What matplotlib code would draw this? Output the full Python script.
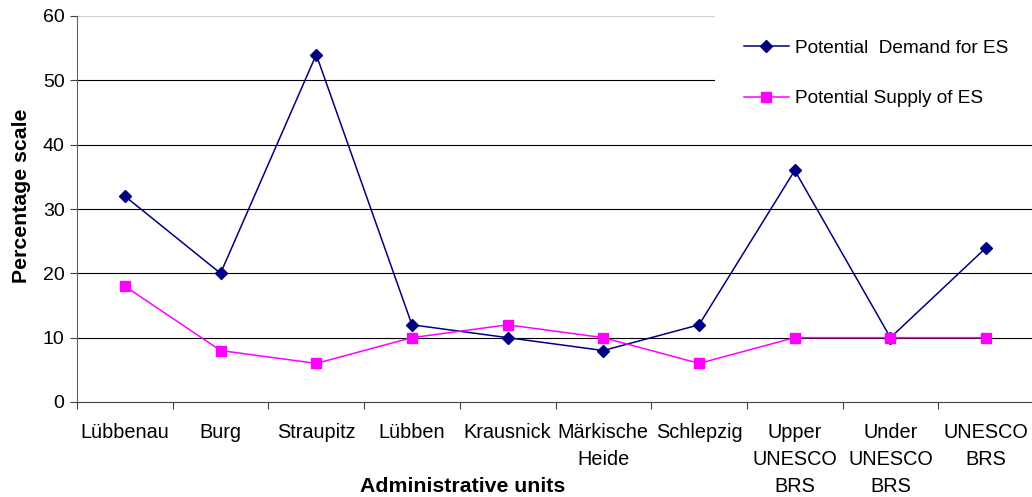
import matplotlib
matplotlib.use("Agg")
import matplotlib.pyplot as plt
import numpy as np

plt.rcParams['font.family'] = ['Liberation Sans', 'DejaVu Sans']

# Data
units = ['Lübbenau', 'Burg', 'Straupitz', 'Lübben', 'Krausnick',
         'Märkische\nHeide', 'Schlepzig', 'Upper\nUNESCO\nBRS',
         'Under\nUNESCO\nBRS', 'UNESCO\nBRS']
demand = [32, 20, 54, 12, 10, 8, 12, 36, 10, 24]
supply = [18, 8, 6, 10, 12, 10, 6, 10, 10, 10]
y_ticks = [0, 10, 20, 30, 40, 50, 60]


def plot_chart():
    fig = plt.figure(figsize=(10.32, 4.97), dpi=100)
    ax = fig.add_axes([77 / 1032, 1 - 402 / 497, 957 / 1032, 386 / 497])

    x = np.arange(len(units))

    # Horizontal grid lines (black), the top one light gray
    for v in y_ticks[1:-1]:
        ax.axhline(v, color='black', lw=0.8, zorder=1)
    ax.axhline(y_ticks[-1], color='#D0D0D0', lw=0.8, zorder=1)

    ax.plot(x, demand, color='#000080', marker='D', markersize=6,
            lw=1.1, label='Potential  Demand for ES', zorder=3)
    ax.plot(x, supply, color='#FF00FF', marker='s', markersize=6.5,
            lw=1.1, label='Potential Supply of ES', zorder=3)

    ax.set_xlim(-0.5, len(units) - 0.5)
    ax.set_ylim(0, 60)
    ax.set_yticks(y_ticks)

    # Ticks between categories, labels centred on categories
    ax.set_xticks(np.arange(len(units) + 1) - 0.5)
    ax.set_xticklabels([])
    ax.set_xticks(x, minor=True)
    ax.set_xticklabels(units, minor=True, fontsize=14.3, linespacing=1.55)
    ax.tick_params(axis='x', which='major', direction='out', length=5,
                   color='#404040')
    ax.tick_params(axis='x', which='minor', length=0, pad=15)
    ax.tick_params(axis='y', direction='out', length=5, color='#404040',
                   labelsize=14, pad=4)

    ax.spines['top'].set_visible(False)
    ax.spines['right'].set_visible(False)
    ax.spines['left'].set_color('#606060')
    ax.spines['bottom'].set_color('#404040')

    ax.set_ylabel('Percentage scale', fontsize=15.3, weight='bold')
    ax.yaxis.set_label_coords(-0.048, 0.534)
    fig.text(463 / 1032, 1 - 487 / 497, 'Administrative units', fontsize=15.3,
             weight='bold', ha='center', va='center')

    leg = ax.legend(loc='upper left', bbox_to_anchor=(715 / 1032, 0.978),
                    bbox_transform=fig.transFigure, borderaxespad=0,
                    fontsize=13.7, labelspacing=1.75, handlelength=2.4,
                    handletextpad=0.3, borderpad=1.5, frameon=True,
                    fancybox=False)
    leg.get_frame().set_facecolor('white')
    leg.get_frame().set_edgecolor('none')
    leg.get_frame().set_alpha(1)
    leg.set_zorder(5)

    fig.savefig('out.png', dpi=100)
    plt.close(fig)


if __name__ == '__main__':
    plot_chart()
